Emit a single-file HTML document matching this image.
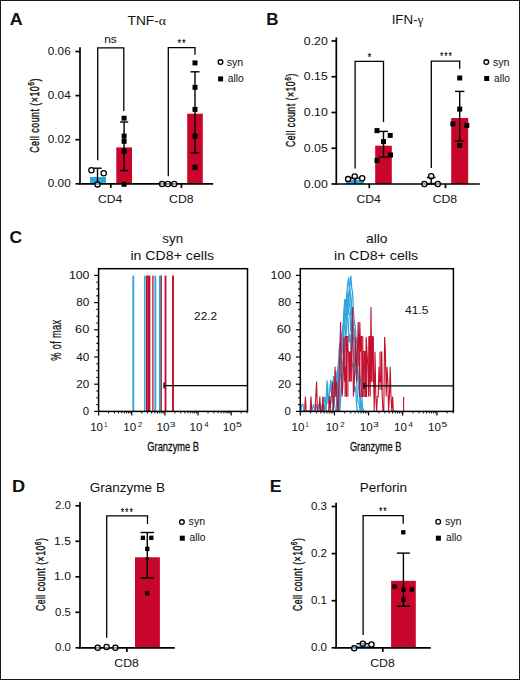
<!DOCTYPE html>
<html><head><meta charset="utf-8"><title>Figure</title>
<style>html,body{margin:0;padding:0;background:#fff;width:520px;height:680px;overflow:hidden}svg{display:block;font-family:"Liberation Sans",sans-serif}</style></head>
<body>
<svg width="520" height="680" viewBox="0 0 520 680" font-family="Liberation Sans, sans-serif" fill="#111">
<rect x="0" y="0" width="520" height="680" fill="#fff"/>
<rect x="90.0" y="177.0" width="16.00" height="6.80" fill="#2aa8e0"/>
<rect x="116.3" y="147.4" width="15.70" height="36.40" fill="#c8062b"/>
<rect x="187.2" y="113.7" width="15.60" height="70.10" fill="#c8062b"/>
<line x1="80.0" y1="47.2" x2="80.0" y2="184.45000000000002" stroke="#000" stroke-width="1.7"/>
<line x1="75.5" y1="183.8" x2="80.0" y2="183.8" stroke="#000" stroke-width="1.7"/>
<line x1="75.5" y1="139.70000000000002" x2="80.0" y2="139.70000000000002" stroke="#000" stroke-width="1.7"/>
<line x1="75.5" y1="95.60000000000001" x2="80.0" y2="95.60000000000001" stroke="#000" stroke-width="1.7"/>
<line x1="75.5" y1="51.5" x2="80.0" y2="51.5" stroke="#000" stroke-width="1.7"/>
<line x1="79.35" y1="183.8" x2="213.2" y2="183.8" stroke="#000" stroke-width="1.7"/>
<line x1="110.8" y1="183.8" x2="110.8" y2="188.0" stroke="#000" stroke-width="1.7"/>
<line x1="181.4" y1="183.8" x2="181.4" y2="188.0" stroke="#000" stroke-width="1.7"/>
<line x1="97.5" y1="168.2" x2="97.5" y2="183.8" stroke="#000" stroke-width="1.4"/>
<line x1="93.3" y1="168.2" x2="101.7" y2="168.2" stroke="#000" stroke-width="1.4"/>
<line x1="124.1" y1="122.0" x2="124.1" y2="170.6" stroke="#000" stroke-width="1.4"/>
<line x1="120.0" y1="122.0" x2="128.2" y2="122.0" stroke="#000" stroke-width="1.4"/>
<line x1="120.0" y1="170.6" x2="128.2" y2="170.6" stroke="#000" stroke-width="1.4"/>
<line x1="195.0" y1="71.8" x2="195.0" y2="152.9" stroke="#000" stroke-width="1.4"/>
<line x1="190.5" y1="71.8" x2="199.5" y2="71.8" stroke="#000" stroke-width="1.4"/>
<line x1="190.5" y1="152.9" x2="199.5" y2="152.9" stroke="#000" stroke-width="1.4"/>
<polyline points="97.70,160.30 97.70,47.80 123.80,47.80 123.80,111.00" fill="none" stroke="#000" stroke-width="1.3" stroke-linejoin="miter"/>
<polyline points="168.30,176.20 168.30,47.60 195.00,47.60 195.00,54.70" fill="none" stroke="#000" stroke-width="1.3" stroke-linejoin="miter"/>
<circle cx="91.4" cy="170.3" r="2.6" fill="#fff" fill-opacity="0.55" stroke="#000" stroke-width="1.3"/>
<circle cx="103.7" cy="173.2" r="2.6" fill="#fff" fill-opacity="0.55" stroke="#000" stroke-width="1.3"/>
<circle cx="97.5" cy="184.4" r="2.6" fill="#fff" fill-opacity="0.55" stroke="#000" stroke-width="1.3"/>
<rect x="121.60" y="115.70" width="5.0" height="5.0" fill="#000"/>
<rect x="121.60" y="133.60" width="5.0" height="5.0" fill="#000"/>
<rect x="121.60" y="138.80" width="5.0" height="5.0" fill="#000"/>
<rect x="121.60" y="148.70" width="5.0" height="5.0" fill="#000"/>
<rect x="121.60" y="181.80" width="5.0" height="5.0" fill="#000"/>
<circle cx="162.1" cy="184.0" r="2.6" fill="#fff" fill-opacity="0.55" stroke="#000" stroke-width="1.3"/>
<circle cx="167.9" cy="184.0" r="2.6" fill="#fff" fill-opacity="0.55" stroke="#000" stroke-width="1.3"/>
<circle cx="174.2" cy="184.0" r="2.6" fill="#fff" fill-opacity="0.55" stroke="#000" stroke-width="1.3"/>
<rect x="192.50" y="60.40" width="5.0" height="5.0" fill="#000"/>
<rect x="192.50" y="84.80" width="5.0" height="5.0" fill="#000"/>
<rect x="192.50" y="106.90" width="5.0" height="5.0" fill="#000"/>
<rect x="192.50" y="133.60" width="5.0" height="5.0" fill="#000"/>
<rect x="192.50" y="164.80" width="5.0" height="5.0" fill="#000"/>
<circle cx="220.5" cy="62.1" r="2.35" fill="#fff" fill-opacity="0.55" stroke="#000" stroke-width="1.3"/>
<rect x="218.10" y="76.40" width="5.0" height="5.0" fill="#000"/>
<rect x="346.0" y="180.0" width="18.00" height="4.00" fill="#2aa8e0"/>
<rect x="375.2" y="145.7" width="16.60" height="38.30" fill="#c8062b"/>
<rect x="422.5" y="182.6" width="17.50" height="1.40" fill="#2aa8e0"/>
<rect x="451.2" y="118.0" width="17.00" height="66.00" fill="#c8062b"/>
<line x1="336.3" y1="37.5" x2="336.3" y2="184.65" stroke="#000" stroke-width="1.7"/>
<line x1="331.5" y1="184.0" x2="336.3" y2="184.0" stroke="#000" stroke-width="1.7"/>
<line x1="331.5" y1="148.25" x2="336.3" y2="148.25" stroke="#000" stroke-width="1.7"/>
<line x1="331.5" y1="112.5" x2="336.3" y2="112.5" stroke="#000" stroke-width="1.7"/>
<line x1="331.5" y1="76.75" x2="336.3" y2="76.75" stroke="#000" stroke-width="1.7"/>
<line x1="331.5" y1="41.0" x2="336.3" y2="41.0" stroke="#000" stroke-width="1.7"/>
<line x1="335.65000000000003" y1="184.0" x2="479.8" y2="184.0" stroke="#000" stroke-width="1.7"/>
<line x1="369.3" y1="184.0" x2="369.3" y2="188.2" stroke="#000" stroke-width="1.7"/>
<line x1="445.5" y1="184.0" x2="445.5" y2="188.2" stroke="#000" stroke-width="1.7"/>
<line x1="355.0" y1="178.0" x2="355.0" y2="184.0" stroke="#000" stroke-width="1.4"/>
<line x1="350.8" y1="178.0" x2="359.2" y2="178.0" stroke="#000" stroke-width="1.4"/>
<line x1="383.5" y1="131.4" x2="383.5" y2="157.1" stroke="#000" stroke-width="1.4"/>
<line x1="379.0" y1="131.4" x2="388.0" y2="131.4" stroke="#000" stroke-width="1.4"/>
<line x1="379.0" y1="157.1" x2="388.0" y2="157.1" stroke="#000" stroke-width="1.4"/>
<line x1="431.2" y1="177.5" x2="431.2" y2="184.0" stroke="#000" stroke-width="1.4"/>
<line x1="426.9" y1="177.5" x2="435.5" y2="177.5" stroke="#000" stroke-width="1.4"/>
<line x1="426.9" y1="184.0" x2="435.5" y2="184.0" stroke="#000" stroke-width="1.4"/>
<line x1="459.7" y1="91.4" x2="459.7" y2="140.9" stroke="#000" stroke-width="1.4"/>
<line x1="455.0" y1="91.4" x2="464.4" y2="91.4" stroke="#000" stroke-width="1.4"/>
<line x1="455.0" y1="140.9" x2="464.4" y2="140.9" stroke="#000" stroke-width="1.4"/>
<polyline points="355.10,168.50 355.10,61.30 383.50,61.30 383.50,122.00" fill="none" stroke="#000" stroke-width="1.3" stroke-linejoin="miter"/>
<polyline points="431.30,168.00 431.30,61.20 459.70,61.20 459.70,68.80" fill="none" stroke="#000" stroke-width="1.3" stroke-linejoin="miter"/>
<circle cx="348.1" cy="179.1" r="2.6" fill="#fff" fill-opacity="0.55" stroke="#000" stroke-width="1.3"/>
<circle cx="354.7" cy="176.5" r="2.6" fill="#fff" fill-opacity="0.55" stroke="#000" stroke-width="1.3"/>
<circle cx="362.2" cy="178.3" r="2.6" fill="#fff" fill-opacity="0.55" stroke="#000" stroke-width="1.3"/>
<rect x="374.50" y="128.10" width="5.0" height="5.0" fill="#000"/>
<rect x="387.70" y="132.90" width="5.0" height="5.0" fill="#000"/>
<rect x="381.00" y="139.10" width="5.0" height="5.0" fill="#000"/>
<rect x="388.00" y="152.50" width="5.0" height="5.0" fill="#000"/>
<rect x="374.50" y="157.90" width="5.0" height="5.0" fill="#000"/>
<circle cx="424.4" cy="184.0" r="2.6" fill="#fff" fill-opacity="0.55" stroke="#000" stroke-width="1.3"/>
<circle cx="431.2" cy="176.3" r="2.6" fill="#fff" fill-opacity="0.55" stroke="#000" stroke-width="1.3"/>
<circle cx="437.8" cy="184.0" r="2.6" fill="#fff" fill-opacity="0.55" stroke="#000" stroke-width="1.3"/>
<rect x="457.20" y="75.50" width="5.0" height="5.0" fill="#000"/>
<rect x="457.20" y="106.60" width="5.0" height="5.0" fill="#000"/>
<rect x="450.40" y="121.40" width="5.0" height="5.0" fill="#000"/>
<rect x="464.30" y="122.90" width="5.0" height="5.0" fill="#000"/>
<rect x="457.20" y="142.80" width="5.0" height="5.0" fill="#000"/>
<circle cx="486.3" cy="62.1" r="2.35" fill="#fff" fill-opacity="0.55" stroke="#000" stroke-width="1.3"/>
<rect x="484.20" y="76.00" width="5.0" height="5.0" fill="#000"/>
<rect x="135.0" y="557.3" width="24.90" height="90.50" fill="#c8062b"/>
<line x1="80.0" y1="501.9" x2="80.0" y2="648.4499999999999" stroke="#000" stroke-width="1.7"/>
<line x1="75.5" y1="647.8" x2="80.0" y2="647.8" stroke="#000" stroke-width="1.7"/>
<line x1="75.5" y1="612.3" x2="80.0" y2="612.3" stroke="#000" stroke-width="1.7"/>
<line x1="75.5" y1="576.8" x2="80.0" y2="576.8" stroke="#000" stroke-width="1.7"/>
<line x1="75.5" y1="541.3" x2="80.0" y2="541.3" stroke="#000" stroke-width="1.7"/>
<line x1="75.5" y1="505.79999999999995" x2="80.0" y2="505.79999999999995" stroke="#000" stroke-width="1.7"/>
<line x1="79.35" y1="647.8" x2="174.8" y2="647.8" stroke="#000" stroke-width="1.7"/>
<line x1="126.9" y1="647.8" x2="126.9" y2="652.0" stroke="#000" stroke-width="1.7"/>
<line x1="147.3" y1="532.5" x2="147.3" y2="578.0" stroke="#000" stroke-width="1.4"/>
<line x1="140.55" y1="532.5" x2="154.05" y2="532.5" stroke="#000" stroke-width="1.4"/>
<line x1="140.55" y1="578.0" x2="154.05" y2="578.0" stroke="#000" stroke-width="1.4"/>
<polyline points="106.70,637.70 106.70,515.80 147.50,515.80 147.50,524.10" fill="none" stroke="#000" stroke-width="1.3" stroke-linejoin="miter"/>
<circle cx="97.7" cy="647.7" r="2.6" fill="#fff" fill-opacity="0.55" stroke="#000" stroke-width="1.3"/>
<circle cx="106.6" cy="646.9" r="2.6" fill="#fff" fill-opacity="0.55" stroke="#000" stroke-width="1.3"/>
<circle cx="115.4" cy="647.7" r="2.6" fill="#fff" fill-opacity="0.55" stroke="#000" stroke-width="1.3"/>
<rect x="140.75" y="535.65" width="4.3" height="4.3" fill="#000"/>
<rect x="149.15" y="535.65" width="4.3" height="4.3" fill="#000"/>
<rect x="145.15" y="546.75" width="4.3" height="4.3" fill="#000"/>
<rect x="145.15" y="591.15" width="4.3" height="4.3" fill="#000"/>
<polygon points="145.2,557.3 149.4,557.3 147.3,562.8" fill="#000"/>
<circle cx="181.9" cy="522.1" r="2.35" fill="#fff" fill-opacity="0.55" stroke="#000" stroke-width="1.3"/>
<rect x="179.80" y="535.70" width="5.0" height="5.0" fill="#000"/>
<rect x="352.0" y="645.6" width="21.50" height="2.20" fill="#2aa8e0"/>
<rect x="391.1" y="580.8" width="24.70" height="67.00" fill="#c8062b"/>
<line x1="336.1" y1="502.7" x2="336.1" y2="648.4499999999999" stroke="#000" stroke-width="1.7"/>
<line x1="331.6" y1="647.8" x2="336.1" y2="647.8" stroke="#000" stroke-width="1.7"/>
<line x1="331.6" y1="600.6999999999999" x2="336.1" y2="600.6999999999999" stroke="#000" stroke-width="1.7"/>
<line x1="331.6" y1="553.5999999999999" x2="336.1" y2="553.5999999999999" stroke="#000" stroke-width="1.7"/>
<line x1="331.6" y1="506.49999999999994" x2="336.1" y2="506.49999999999994" stroke="#000" stroke-width="1.7"/>
<line x1="335.45000000000005" y1="647.8" x2="430.8" y2="647.8" stroke="#000" stroke-width="1.7"/>
<line x1="382.8" y1="647.8" x2="382.8" y2="652.0" stroke="#000" stroke-width="1.7"/>
<line x1="362.9" y1="643.7" x2="362.9" y2="647.8" stroke="#000" stroke-width="1.4"/>
<line x1="356.5" y1="643.7" x2="369.0" y2="643.7" stroke="#000" stroke-width="1.4"/>
<line x1="403.4" y1="553.1" x2="403.4" y2="606.2" stroke="#000" stroke-width="1.4"/>
<line x1="396.9" y1="553.1" x2="409.9" y2="553.1" stroke="#000" stroke-width="1.4"/>
<line x1="396.9" y1="606.2" x2="409.9" y2="606.2" stroke="#000" stroke-width="1.4"/>
<polyline points="363.10,635.00 363.10,515.70 403.20,515.70 403.20,523.80" fill="none" stroke="#000" stroke-width="1.3" stroke-linejoin="miter"/>
<circle cx="354.2" cy="648.3" r="2.6" fill="#fff" fill-opacity="0.55" stroke="#000" stroke-width="1.3"/>
<circle cx="362.8" cy="643.8" r="2.6" fill="#fff" fill-opacity="0.55" stroke="#000" stroke-width="1.3"/>
<circle cx="371.5" cy="644.5" r="2.6" fill="#fff" fill-opacity="0.55" stroke="#000" stroke-width="1.3"/>
<rect x="401.15" y="530.15" width="4.3" height="4.3" fill="#000"/>
<rect x="392.45" y="584.35" width="4.3" height="4.3" fill="#000"/>
<rect x="401.25" y="587.55" width="4.3" height="4.3" fill="#000"/>
<rect x="409.65" y="587.35" width="4.3" height="4.3" fill="#000"/>
<rect x="401.25" y="597.55" width="4.3" height="4.3" fill="#000"/>
<circle cx="438.2" cy="521.7" r="2.35" fill="#fff" fill-opacity="0.55" stroke="#000" stroke-width="1.3"/>
<rect x="435.90" y="535.70" width="5.0" height="5.0" fill="#000"/>
<line x1="133.3" y1="275.6" x2="133.3" y2="411.4" stroke="#32a6dc" stroke-width="1.9"/>
<line x1="144.8" y1="275.6" x2="144.8" y2="411.4" stroke="#32a6dc" stroke-width="1.5"/>
<line x1="155.3" y1="275.6" x2="155.3" y2="411.4" stroke="#32a6dc" stroke-width="1.9"/>
<line x1="159.8" y1="275.6" x2="159.8" y2="411.4" stroke="#32a6dc" stroke-width="1.6"/>
<line x1="146.8" y1="275.6" x2="146.8" y2="411.4" stroke="#c4102f" stroke-width="1.7"/>
<line x1="148.2" y1="275.6" x2="148.2" y2="411.4" stroke="#c4102f" stroke-width="1.7"/>
<line x1="149.5" y1="275.6" x2="149.5" y2="411.4" stroke="#c4102f" stroke-width="1.7"/>
<line x1="152.9" y1="275.6" x2="152.9" y2="411.4" stroke="#c4102f" stroke-width="1.3"/>
<line x1="161.2" y1="275.6" x2="161.2" y2="411.4" stroke="#7a1a3a" stroke-width="1.3"/>
<line x1="165.5" y1="275.6" x2="165.5" y2="411.4" stroke="#c4102f" stroke-width="1.9"/>
<line x1="173.0" y1="275.6" x2="173.0" y2="411.4" stroke="#c4102f" stroke-width="1.9"/>
<polyline points="337.20,411.40 338.00,410.24 338.90,402.52 339.80,380.47 340.70,372.74 341.60,358.60 342.50,345.87 343.40,335.22 344.30,325.48 345.20,314.24 346.10,304.26 347.00,290.62 347.90,282.38 348.80,277.64 349.70,296.05 350.60,293.11 351.50,311.09 352.40,316.52 353.30,327.47 354.20,330.59 355.10,340.37 356.00,357.78 356.90,369.10 357.80,368.91 358.70,383.18 359.60,394.73 360.50,403.96 361.40,401.60 362.60,411.40" fill="none" stroke="#32a6dc" stroke-width="1.3" stroke-linejoin="miter" stroke-miterlimit="2"/>
<polyline points="339.20,411.40 340.00,410.50 340.90,393.25 341.80,389.07 342.70,375.95 343.60,364.23 344.50,351.46 345.40,338.19 346.30,332.48 347.20,316.49 348.10,304.52 349.00,297.96 349.90,285.16 350.80,275.80 351.70,288.02 352.60,293.25 353.50,311.51 354.40,322.31 355.30,327.12 356.20,341.89 357.10,341.00 358.00,356.80 358.90,360.48 359.80,375.40 360.70,380.60 361.60,390.87 362.50,407.29 363.80,411.40" fill="none" stroke="#32a6dc" stroke-width="1.3" stroke-linejoin="miter" stroke-miterlimit="2"/>
<polyline points="334.70,411.40 335.50,411.40 336.40,405.22 337.30,389.04 338.20,383.04 339.10,379.65 340.00,370.19 340.90,348.35 341.80,340.15 342.70,328.15 343.60,324.87 344.50,308.78 345.40,306.10 346.30,299.67 347.20,292.22 348.10,307.04 349.00,314.14 349.90,313.53 350.80,330.55 351.70,334.22 352.60,345.17 353.50,351.53 354.40,366.54 355.30,370.96 356.20,374.88 357.10,389.55 358.00,401.78 358.90,402.66 360.30,411.40" fill="none" stroke="#32a6dc" stroke-width="1.3" stroke-linejoin="miter" stroke-miterlimit="2"/>
<polyline points="338.20,411.40 339.00,411.40 339.90,398.69 340.80,392.56 341.70,373.74 342.60,363.38 343.50,357.23 344.40,345.55 345.30,333.41 346.20,321.55 347.10,313.40 348.00,300.53 348.90,292.48 349.80,288.22 350.70,297.93 351.60,307.70 352.50,320.25 353.40,327.64 354.30,332.68 355.20,346.41 356.10,354.98 357.00,356.39 357.90,372.13 358.80,382.07 359.70,390.51 360.60,399.34 361.50,406.75 362.80,411.40" fill="none" stroke="#32a6dc" stroke-width="1.3" stroke-linejoin="miter" stroke-miterlimit="2"/>
<polyline points="332.20,411.40 333.00,403.77 333.90,408.42 334.80,394.25 335.70,391.36 336.60,387.92 337.50,371.99 338.40,363.30 339.30,347.55 340.20,343.07 341.10,339.21 342.00,334.42 342.90,328.64 343.80,313.01 344.70,300.00 345.60,300.00 346.50,316.66 347.40,312.48 348.30,325.13 349.20,342.11 350.10,334.15 351.00,352.87 351.90,367.52 352.80,362.91 353.70,377.00 354.60,391.84 355.50,386.23 356.40,401.61 357.30,411.40 358.30,411.40" fill="none" stroke="#32a6dc" stroke-width="1.3" stroke-linejoin="miter" stroke-miterlimit="2"/>
<polyline points="335.70,411.40 336.50,411.40 337.40,407.19 338.30,396.17 339.20,382.29 340.10,368.88 341.00,356.40 341.90,351.60 342.80,341.43 343.70,333.05 344.60,322.69 345.50,313.78 346.40,303.81 347.30,296.59 348.20,294.29 349.10,301.59 350.00,307.68 350.90,314.45 351.80,331.08 352.70,331.81 353.60,338.85 354.50,345.42 355.40,364.84 356.30,363.00 357.20,373.74 358.10,379.14 359.00,389.40 359.90,399.84 360.80,411.40 361.80,411.40" fill="none" stroke="#32a6dc" stroke-width="1.3" stroke-linejoin="miter" stroke-miterlimit="2"/>
<polyline points="322.00,411.40 323.50,404.00 325.00,397.00 326.00,411.40 327.50,383.00 328.50,404.00 330.00,390.00 331.00,380.00 332.20,404.00 333.50,376.00 334.50,397.00 335.80,370.00 337.00,383.00 338.00,366.00 339.20,411.40" fill="none" stroke="#32a6dc" stroke-width="1.2" stroke-linejoin="miter" stroke-miterlimit="2"/>
<polyline points="300.60,411.40 301.90,404.40 303.00,404.40 304.00,411.40 310.20,411.40 311.00,404.00 312.00,411.40 313.50,404.00 315.00,411.40 316.30,404.00 317.50,411.40 319.00,404.00 320.50,404.00 321.50,411.40 323.00,397.00 324.50,411.40 326.30,395.00 327.00,380.20 328.00,404.00 329.20,397.00 330.60,380.20 331.80,397.00 333.00,390.00 334.20,383.00 335.20,397.00 336.50,376.00 337.50,390.00 338.50,411.40" fill="none" stroke="#32a6dc" stroke-width="1.1" stroke-linejoin="miter" stroke-miterlimit="2"/>
<line x1="345.1" y1="336.5" x2="345.1" y2="396.7" stroke="#c4102f" stroke-width="1.1"/>
<line x1="346.5" y1="336.5" x2="346.5" y2="396.7" stroke="#c4102f" stroke-width="1.1"/>
<line x1="347.9" y1="336.5" x2="347.9" y2="396.7" stroke="#c4102f" stroke-width="1.1"/>
<line x1="345.1" y1="336.5" x2="347.9" y2="336.5" stroke="#c4102f" stroke-width="1.1"/>
<line x1="349.7" y1="352.0" x2="349.7" y2="381.5" stroke="#c4102f" stroke-width="1.1"/>
<line x1="351.2" y1="352.0" x2="351.2" y2="381.5" stroke="#c4102f" stroke-width="1.1"/>
<line x1="349.7" y1="352.0" x2="351.2" y2="352.0" stroke="#c4102f" stroke-width="1.1"/>
<line x1="359.6" y1="336.5" x2="359.6" y2="397.0" stroke="#c4102f" stroke-width="1.1"/>
<line x1="361.2" y1="336.5" x2="361.2" y2="397.0" stroke="#c4102f" stroke-width="1.1"/>
<line x1="362.8" y1="336.5" x2="362.8" y2="397.0" stroke="#c4102f" stroke-width="1.1"/>
<line x1="359.6" y1="336.5" x2="362.8" y2="336.5" stroke="#c4102f" stroke-width="1.1"/>
<line x1="362.8" y1="351.5" x2="362.8" y2="397.0" stroke="#c4102f" stroke-width="1.1"/>
<line x1="364.03" y1="351.5" x2="364.03" y2="397.0" stroke="#c4102f" stroke-width="1.1"/>
<line x1="365.27" y1="351.5" x2="365.27" y2="397.0" stroke="#c4102f" stroke-width="1.1"/>
<line x1="366.5" y1="351.5" x2="366.5" y2="397.0" stroke="#c4102f" stroke-width="1.1"/>
<line x1="362.8" y1="351.5" x2="366.5" y2="351.5" stroke="#c4102f" stroke-width="1.1"/>
<line x1="368.8" y1="336.5" x2="368.8" y2="382.0" stroke="#c4102f" stroke-width="1.1"/>
<line x1="370.3" y1="336.5" x2="370.3" y2="382.0" stroke="#c4102f" stroke-width="1.1"/>
<line x1="371.8" y1="336.5" x2="371.8" y2="382.0" stroke="#c4102f" stroke-width="1.1"/>
<line x1="373.3" y1="336.5" x2="373.3" y2="382.0" stroke="#c4102f" stroke-width="1.1"/>
<line x1="368.8" y1="336.5" x2="373.3" y2="336.5" stroke="#c4102f" stroke-width="1.1"/>
<line x1="380.0" y1="352.0" x2="380.0" y2="390.0" stroke="#c4102f" stroke-width="1.1"/>
<line x1="381.8" y1="352.0" x2="381.8" y2="390.0" stroke="#c4102f" stroke-width="1.1"/>
<line x1="380.0" y1="352.0" x2="381.8" y2="352.0" stroke="#c4102f" stroke-width="1.1"/>
<polyline points="300.60,411.40 301.40,411.40 302.20,411.40 303.00,411.40 303.80,411.40 304.60,411.40 305.40,396.50 306.20,411.40 307.00,411.40 307.80,411.40 308.60,411.40 309.40,411.40 310.20,411.40 311.00,396.50 311.80,411.40 312.60,411.40 313.40,411.40 314.20,411.40 315.00,411.40 315.80,396.50 316.60,381.60 317.40,411.40 318.20,411.40 319.00,411.40 319.80,396.50 320.60,411.40 321.40,411.40 322.20,411.40 323.00,396.50 323.80,411.40 324.60,411.40 325.40,411.40 326.20,411.40 327.00,411.40 327.80,411.40 328.60,411.40 329.40,396.50 330.20,411.40 331.00,396.50 331.80,396.50 332.60,381.60 333.40,411.40 334.20,396.50 335.00,366.70 335.80,396.50 336.60,381.60 337.40,411.40 338.20,411.40 339.00,381.60 339.80,351.80 340.60,322.00 341.40,381.60 342.20,396.50 343.00,381.60 343.80,336.90 344.60,381.60 345.40,366.70 346.20,396.50 347.00,336.90 347.80,351.80 348.60,351.80 349.40,381.60 350.20,351.80 351.00,381.60 351.80,336.90 352.60,307.10 353.40,396.50 354.20,381.60 355.00,366.70 355.80,336.90 356.60,381.60 357.40,351.80 358.20,322.00 359.00,366.70 359.80,322.00 360.60,351.80 361.40,336.90 362.20,351.80 363.00,381.60 363.80,366.70 364.60,351.80 365.40,396.50 366.20,336.90 367.00,351.80 367.80,366.70 368.60,396.50 369.40,336.90 370.20,396.50 371.00,307.10 371.80,381.60 372.60,336.90 373.40,366.70 374.20,411.40 375.00,351.80 375.80,396.50 376.60,411.40 377.40,396.50 378.20,396.50 379.00,366.70 379.80,381.60 380.60,381.60 381.40,351.80 382.20,396.50 383.00,411.40 383.80,411.40 384.60,336.90 385.40,351.80 386.20,396.50 387.00,366.70 387.80,381.60 388.60,411.40 389.40,396.50 390.20,366.70 391.00,396.50 391.80,411.40 392.60,396.50 393.40,411.40 394.20,411.40 395.00,411.40 395.80,411.40 396.60,411.40 397.50,411.40" fill="none" stroke="#c4102f" stroke-width="1.1" stroke-linejoin="miter" stroke-miterlimit="2"/>
<line x1="403.6" y1="397.0" x2="403.6" y2="411.4" stroke="#c4102f" stroke-width="1.1"/>
<rect x="98.6" y="268.7" width="148.90" height="142.70" fill="none" stroke="#000" stroke-width="1.5"/>
<line x1="94.19999999999999" y1="411.4" x2="98.6" y2="411.4" stroke="#000" stroke-width="1.2"/>
<line x1="96.39999999999999" y1="404.59999999999997" x2="98.6" y2="404.59999999999997" stroke="#000" stroke-width="1.2"/>
<line x1="96.39999999999999" y1="397.79999999999995" x2="98.6" y2="397.79999999999995" stroke="#000" stroke-width="1.2"/>
<line x1="96.39999999999999" y1="391.0" x2="98.6" y2="391.0" stroke="#000" stroke-width="1.2"/>
<line x1="94.19999999999999" y1="384.2" x2="98.6" y2="384.2" stroke="#000" stroke-width="1.2"/>
<line x1="96.39999999999999" y1="377.4" x2="98.6" y2="377.4" stroke="#000" stroke-width="1.2"/>
<line x1="96.39999999999999" y1="370.59999999999997" x2="98.6" y2="370.59999999999997" stroke="#000" stroke-width="1.2"/>
<line x1="96.39999999999999" y1="363.79999999999995" x2="98.6" y2="363.79999999999995" stroke="#000" stroke-width="1.2"/>
<line x1="94.19999999999999" y1="357.0" x2="98.6" y2="357.0" stroke="#000" stroke-width="1.2"/>
<line x1="96.39999999999999" y1="350.2" x2="98.6" y2="350.2" stroke="#000" stroke-width="1.2"/>
<line x1="96.39999999999999" y1="343.4" x2="98.6" y2="343.4" stroke="#000" stroke-width="1.2"/>
<line x1="96.39999999999999" y1="336.59999999999997" x2="98.6" y2="336.59999999999997" stroke="#000" stroke-width="1.2"/>
<line x1="94.19999999999999" y1="329.79999999999995" x2="98.6" y2="329.79999999999995" stroke="#000" stroke-width="1.2"/>
<line x1="96.39999999999999" y1="323.0" x2="98.6" y2="323.0" stroke="#000" stroke-width="1.2"/>
<line x1="96.39999999999999" y1="316.2" x2="98.6" y2="316.2" stroke="#000" stroke-width="1.2"/>
<line x1="96.39999999999999" y1="309.4" x2="98.6" y2="309.4" stroke="#000" stroke-width="1.2"/>
<line x1="94.19999999999999" y1="302.59999999999997" x2="98.6" y2="302.59999999999997" stroke="#000" stroke-width="1.2"/>
<line x1="96.39999999999999" y1="295.79999999999995" x2="98.6" y2="295.79999999999995" stroke="#000" stroke-width="1.2"/>
<line x1="96.39999999999999" y1="289.0" x2="98.6" y2="289.0" stroke="#000" stroke-width="1.2"/>
<line x1="96.39999999999999" y1="282.2" x2="98.6" y2="282.2" stroke="#000" stroke-width="1.2"/>
<line x1="94.19999999999999" y1="275.4" x2="98.6" y2="275.4" stroke="#000" stroke-width="1.2"/>
<line x1="98.6" y1="411.4" x2="98.6" y2="415.4" stroke="#000" stroke-width="1.2"/>
<line x1="108.57914435626097" y1="411.4" x2="108.57914435626097" y2="413.4" stroke="#000" stroke-width="1.0"/>
<line x1="114.41656959395681" y1="411.4" x2="114.41656959395681" y2="413.4" stroke="#000" stroke-width="1.0"/>
<line x1="118.55828871252194" y1="411.4" x2="118.55828871252194" y2="413.4" stroke="#000" stroke-width="1.0"/>
<line x1="121.77085564373903" y1="411.4" x2="121.77085564373903" y2="413.4" stroke="#000" stroke-width="1.0"/>
<line x1="124.39571395021778" y1="411.4" x2="124.39571395021778" y2="413.4" stroke="#000" stroke-width="1.0"/>
<line x1="126.61500002647261" y1="411.4" x2="126.61500002647261" y2="413.4" stroke="#000" stroke-width="1.0"/>
<line x1="128.53743306878292" y1="411.4" x2="128.53743306878292" y2="413.4" stroke="#000" stroke-width="1.0"/>
<line x1="130.23313918791362" y1="411.4" x2="130.23313918791362" y2="413.4" stroke="#000" stroke-width="1.0"/>
<line x1="131.75" y1="411.4" x2="131.75" y2="415.4" stroke="#000" stroke-width="1.2"/>
<line x1="141.72914435626097" y1="411.4" x2="141.72914435626097" y2="413.4" stroke="#000" stroke-width="1.0"/>
<line x1="147.5665695939568" y1="411.4" x2="147.5665695939568" y2="413.4" stroke="#000" stroke-width="1.0"/>
<line x1="151.70828871252195" y1="411.4" x2="151.70828871252195" y2="413.4" stroke="#000" stroke-width="1.0"/>
<line x1="154.92085564373903" y1="411.4" x2="154.92085564373903" y2="413.4" stroke="#000" stroke-width="1.0"/>
<line x1="157.5457139502178" y1="411.4" x2="157.5457139502178" y2="413.4" stroke="#000" stroke-width="1.0"/>
<line x1="159.76500002647262" y1="411.4" x2="159.76500002647262" y2="413.4" stroke="#000" stroke-width="1.0"/>
<line x1="161.68743306878292" y1="411.4" x2="161.68743306878292" y2="413.4" stroke="#000" stroke-width="1.0"/>
<line x1="163.38313918791363" y1="411.4" x2="163.38313918791363" y2="413.4" stroke="#000" stroke-width="1.0"/>
<line x1="164.89999999999998" y1="411.4" x2="164.89999999999998" y2="415.4" stroke="#000" stroke-width="1.2"/>
<line x1="174.87914435626095" y1="411.4" x2="174.87914435626095" y2="413.4" stroke="#000" stroke-width="1.0"/>
<line x1="180.7165695939568" y1="411.4" x2="180.7165695939568" y2="413.4" stroke="#000" stroke-width="1.0"/>
<line x1="184.85828871252193" y1="411.4" x2="184.85828871252193" y2="413.4" stroke="#000" stroke-width="1.0"/>
<line x1="188.070855643739" y1="411.4" x2="188.070855643739" y2="413.4" stroke="#000" stroke-width="1.0"/>
<line x1="190.69571395021777" y1="411.4" x2="190.69571395021777" y2="413.4" stroke="#000" stroke-width="1.0"/>
<line x1="192.9150000264726" y1="411.4" x2="192.9150000264726" y2="413.4" stroke="#000" stroke-width="1.0"/>
<line x1="194.8374330687829" y1="411.4" x2="194.8374330687829" y2="413.4" stroke="#000" stroke-width="1.0"/>
<line x1="196.5331391879136" y1="411.4" x2="196.5331391879136" y2="413.4" stroke="#000" stroke-width="1.0"/>
<line x1="198.04999999999998" y1="411.4" x2="198.04999999999998" y2="415.4" stroke="#000" stroke-width="1.2"/>
<line x1="208.02914435626096" y1="411.4" x2="208.02914435626096" y2="413.4" stroke="#000" stroke-width="1.0"/>
<line x1="213.8665695939568" y1="411.4" x2="213.8665695939568" y2="413.4" stroke="#000" stroke-width="1.0"/>
<line x1="218.00828871252193" y1="411.4" x2="218.00828871252193" y2="413.4" stroke="#000" stroke-width="1.0"/>
<line x1="221.22085564373901" y1="411.4" x2="221.22085564373901" y2="413.4" stroke="#000" stroke-width="1.0"/>
<line x1="223.84571395021777" y1="411.4" x2="223.84571395021777" y2="413.4" stroke="#000" stroke-width="1.0"/>
<line x1="226.0650000264726" y1="411.4" x2="226.0650000264726" y2="413.4" stroke="#000" stroke-width="1.0"/>
<line x1="227.9874330687829" y1="411.4" x2="227.9874330687829" y2="413.4" stroke="#000" stroke-width="1.0"/>
<line x1="229.6831391879136" y1="411.4" x2="229.6831391879136" y2="413.4" stroke="#000" stroke-width="1.0"/>
<line x1="231.2" y1="411.4" x2="231.2" y2="415.4" stroke="#000" stroke-width="1.2"/>
<line x1="241.17914435626096" y1="411.4" x2="241.17914435626096" y2="413.4" stroke="#000" stroke-width="1.0"/>
<line x1="247.0165695939568" y1="411.4" x2="247.0165695939568" y2="413.4" stroke="#000" stroke-width="1.0"/>
<rect x="300.3" y="268.7" width="153.10" height="142.70" fill="none" stroke="#000" stroke-width="1.5"/>
<line x1="295.90000000000003" y1="411.4" x2="300.3" y2="411.4" stroke="#000" stroke-width="1.2"/>
<line x1="298.1" y1="404.59999999999997" x2="300.3" y2="404.59999999999997" stroke="#000" stroke-width="1.2"/>
<line x1="298.1" y1="397.79999999999995" x2="300.3" y2="397.79999999999995" stroke="#000" stroke-width="1.2"/>
<line x1="298.1" y1="391.0" x2="300.3" y2="391.0" stroke="#000" stroke-width="1.2"/>
<line x1="295.90000000000003" y1="384.2" x2="300.3" y2="384.2" stroke="#000" stroke-width="1.2"/>
<line x1="298.1" y1="377.4" x2="300.3" y2="377.4" stroke="#000" stroke-width="1.2"/>
<line x1="298.1" y1="370.59999999999997" x2="300.3" y2="370.59999999999997" stroke="#000" stroke-width="1.2"/>
<line x1="298.1" y1="363.79999999999995" x2="300.3" y2="363.79999999999995" stroke="#000" stroke-width="1.2"/>
<line x1="295.90000000000003" y1="357.0" x2="300.3" y2="357.0" stroke="#000" stroke-width="1.2"/>
<line x1="298.1" y1="350.2" x2="300.3" y2="350.2" stroke="#000" stroke-width="1.2"/>
<line x1="298.1" y1="343.4" x2="300.3" y2="343.4" stroke="#000" stroke-width="1.2"/>
<line x1="298.1" y1="336.59999999999997" x2="300.3" y2="336.59999999999997" stroke="#000" stroke-width="1.2"/>
<line x1="295.90000000000003" y1="329.79999999999995" x2="300.3" y2="329.79999999999995" stroke="#000" stroke-width="1.2"/>
<line x1="298.1" y1="323.0" x2="300.3" y2="323.0" stroke="#000" stroke-width="1.2"/>
<line x1="298.1" y1="316.2" x2="300.3" y2="316.2" stroke="#000" stroke-width="1.2"/>
<line x1="298.1" y1="309.4" x2="300.3" y2="309.4" stroke="#000" stroke-width="1.2"/>
<line x1="295.90000000000003" y1="302.59999999999997" x2="300.3" y2="302.59999999999997" stroke="#000" stroke-width="1.2"/>
<line x1="298.1" y1="295.79999999999995" x2="300.3" y2="295.79999999999995" stroke="#000" stroke-width="1.2"/>
<line x1="298.1" y1="289.0" x2="300.3" y2="289.0" stroke="#000" stroke-width="1.2"/>
<line x1="298.1" y1="282.2" x2="300.3" y2="282.2" stroke="#000" stroke-width="1.2"/>
<line x1="295.90000000000003" y1="275.4" x2="300.3" y2="275.4" stroke="#000" stroke-width="1.2"/>
<line x1="300.3" y1="411.4" x2="300.3" y2="415.4" stroke="#000" stroke-width="1.2"/>
<line x1="310.580174351925" y1="411.4" x2="310.580174351925" y2="413.4" stroke="#000" stroke-width="1.0"/>
<line x1="316.5936908486765" y1="411.4" x2="316.5936908486765" y2="413.4" stroke="#000" stroke-width="1.0"/>
<line x1="320.8603487038499" y1="411.4" x2="320.8603487038499" y2="413.4" stroke="#000" stroke-width="1.0"/>
<line x1="324.16982564807506" y1="411.4" x2="324.16982564807506" y2="413.4" stroke="#000" stroke-width="1.0"/>
<line x1="326.8738652006014" y1="411.4" x2="326.8738652006014" y2="413.4" stroke="#000" stroke-width="1.0"/>
<line x1="329.16009806648685" y1="411.4" x2="329.16009806648685" y2="413.4" stroke="#000" stroke-width="1.0"/>
<line x1="331.1405230557749" y1="411.4" x2="331.1405230557749" y2="413.4" stroke="#000" stroke-width="1.0"/>
<line x1="332.88738169735296" y1="411.4" x2="332.88738169735296" y2="413.4" stroke="#000" stroke-width="1.0"/>
<line x1="334.45" y1="411.4" x2="334.45" y2="415.4" stroke="#000" stroke-width="1.2"/>
<line x1="344.730174351925" y1="411.4" x2="344.730174351925" y2="413.4" stroke="#000" stroke-width="1.0"/>
<line x1="350.74369084867647" y1="411.4" x2="350.74369084867647" y2="413.4" stroke="#000" stroke-width="1.0"/>
<line x1="355.0103487038499" y1="411.4" x2="355.0103487038499" y2="413.4" stroke="#000" stroke-width="1.0"/>
<line x1="358.31982564807504" y1="411.4" x2="358.31982564807504" y2="413.4" stroke="#000" stroke-width="1.0"/>
<line x1="361.0238652006014" y1="411.4" x2="361.0238652006014" y2="413.4" stroke="#000" stroke-width="1.0"/>
<line x1="363.31009806648683" y1="411.4" x2="363.31009806648683" y2="413.4" stroke="#000" stroke-width="1.0"/>
<line x1="365.2905230557749" y1="411.4" x2="365.2905230557749" y2="413.4" stroke="#000" stroke-width="1.0"/>
<line x1="367.03738169735294" y1="411.4" x2="367.03738169735294" y2="413.4" stroke="#000" stroke-width="1.0"/>
<line x1="368.6" y1="411.4" x2="368.6" y2="415.4" stroke="#000" stroke-width="1.2"/>
<line x1="378.880174351925" y1="411.4" x2="378.880174351925" y2="413.4" stroke="#000" stroke-width="1.0"/>
<line x1="384.8936908486765" y1="411.4" x2="384.8936908486765" y2="413.4" stroke="#000" stroke-width="1.0"/>
<line x1="389.16034870384993" y1="411.4" x2="389.16034870384993" y2="413.4" stroke="#000" stroke-width="1.0"/>
<line x1="392.4698256480751" y1="411.4" x2="392.4698256480751" y2="413.4" stroke="#000" stroke-width="1.0"/>
<line x1="395.1738652006014" y1="411.4" x2="395.1738652006014" y2="413.4" stroke="#000" stroke-width="1.0"/>
<line x1="397.4600980664869" y1="411.4" x2="397.4600980664869" y2="413.4" stroke="#000" stroke-width="1.0"/>
<line x1="399.4405230557749" y1="411.4" x2="399.4405230557749" y2="413.4" stroke="#000" stroke-width="1.0"/>
<line x1="401.187381697353" y1="411.4" x2="401.187381697353" y2="413.4" stroke="#000" stroke-width="1.0"/>
<line x1="402.75" y1="411.4" x2="402.75" y2="415.4" stroke="#000" stroke-width="1.2"/>
<line x1="413.030174351925" y1="411.4" x2="413.030174351925" y2="413.4" stroke="#000" stroke-width="1.0"/>
<line x1="419.0436908486765" y1="411.4" x2="419.0436908486765" y2="413.4" stroke="#000" stroke-width="1.0"/>
<line x1="423.3103487038499" y1="411.4" x2="423.3103487038499" y2="413.4" stroke="#000" stroke-width="1.0"/>
<line x1="426.61982564807505" y1="411.4" x2="426.61982564807505" y2="413.4" stroke="#000" stroke-width="1.0"/>
<line x1="429.3238652006014" y1="411.4" x2="429.3238652006014" y2="413.4" stroke="#000" stroke-width="1.0"/>
<line x1="431.6100980664869" y1="411.4" x2="431.6100980664869" y2="413.4" stroke="#000" stroke-width="1.0"/>
<line x1="433.5905230557749" y1="411.4" x2="433.5905230557749" y2="413.4" stroke="#000" stroke-width="1.0"/>
<line x1="435.33738169735295" y1="411.4" x2="435.33738169735295" y2="413.4" stroke="#000" stroke-width="1.0"/>
<line x1="436.9" y1="411.4" x2="436.9" y2="415.4" stroke="#000" stroke-width="1.2"/>
<line x1="447.18017435192496" y1="411.4" x2="447.18017435192496" y2="413.4" stroke="#000" stroke-width="1.0"/>
<line x1="453.19369084867645" y1="411.4" x2="453.19369084867645" y2="413.4" stroke="#000" stroke-width="1.0"/>
<line x1="163.5" y1="385.7" x2="247.5" y2="385.7" stroke="#000" stroke-width="1.3"/>
<line x1="164.0" y1="382.6" x2="164.0" y2="388.6" stroke="#000" stroke-width="1.3"/>
<line x1="363.6" y1="385.8" x2="453.4" y2="385.8" stroke="#000" stroke-width="1.3"/>
<line x1="364.1" y1="382.7" x2="364.1" y2="388.7" stroke="#000" stroke-width="1.3"/>
<text transform="translate(9.80,24.60) scale(1.1182,1)" font-size="16" font-weight="bold">A</text>
<text transform="translate(266.24,24.50) scale(1.0600,1)" font-size="16" font-weight="bold">B</text>
<text transform="translate(9.61,243.20) scale(1.0900,1)" font-size="16" font-weight="bold">C</text>
<text transform="translate(12.06,491.60) scale(1.1400,1)" font-size="16" font-weight="bold">D</text>
<text transform="translate(269.79,491.80) scale(1.1111,1)" font-size="16" font-weight="bold">E</text>
<text transform="translate(127.50,24.50) scale(1.0583,1)" font-size="13">TNF-<tspan font-family="Liberation Serif">α</tspan></text>
<text transform="translate(391.67,24.00) scale(1.0267,1)" font-size="13">IFN-<tspan font-family="Liberation Serif">γ</tspan></text>
<text transform="translate(89.66,491.80) scale(1.0437,1)" font-size="13">Granzyme B</text>
<text transform="translate(359.76,491.80) scale(1.0386,1)" font-size="13">Perforin</text>
<text transform="translate(162.37,243.00) scale(1.0316,1)" font-size="13">syn</text>
<text transform="translate(130.41,260.00) scale(1.0882,1)" font-size="13">in CD8+ cells</text>
<text transform="translate(365.93,243.00) scale(1.0684,1)" font-size="13">allo</text>
<text transform="translate(334.11,260.00) scale(1.0947,1)" font-size="13">in CD8+ cells</text>
<text transform="translate(226.69,65.60) scale(1.0133,1)" font-size="10.5">syn</text>
<text transform="translate(227.70,81.70) scale(0.9750,1)" font-size="10.5">allo</text>
<text transform="translate(492.99,65.60) scale(1.0133,1)" font-size="10.5">syn</text>
<text transform="translate(494.00,81.70) scale(0.9750,1)" font-size="10.5">allo</text>
<text transform="translate(188.59,524.80) scale(1.0133,1)" font-size="10.5">syn</text>
<text transform="translate(189.60,541.40) scale(0.9750,1)" font-size="10.5">allo</text>
<text transform="translate(444.99,524.60) scale(1.0133,1)" font-size="10.5">syn</text>
<text transform="translate(446.00,541.40) scale(0.9750,1)" font-size="10.5">allo</text>
<text transform="translate(47.80,187.30) scale(1.0714,1)" font-size="11">0.00</text>
<text transform="translate(47.80,143.20) scale(1.0714,1)" font-size="11">0.02</text>
<text transform="translate(47.80,99.10) scale(1.0714,1)" font-size="11">0.04</text>
<text transform="translate(47.80,55.00) scale(1.0714,1)" font-size="11">0.06</text>
<text transform="translate(303.80,187.50) scale(1.1190,1)" font-size="11">0.00</text>
<text transform="translate(303.80,151.75) scale(1.1190,1)" font-size="11">0.05</text>
<text transform="translate(303.80,116.00) scale(1.1190,1)" font-size="11">0.10</text>
<text transform="translate(303.80,80.25) scale(1.1190,1)" font-size="11">0.15</text>
<text transform="translate(303.80,44.50) scale(1.1190,1)" font-size="11">0.20</text>
<text transform="translate(55.10,651.40) scale(1.0333,1)" font-size="11">0.0</text>
<text transform="translate(55.10,615.90) scale(1.0333,1)" font-size="11">0.5</text>
<text transform="translate(53.99,580.40) scale(1.1071,1)" font-size="11">1.0</text>
<text transform="translate(53.99,544.90) scale(1.1071,1)" font-size="11">1.5</text>
<text transform="translate(55.10,509.40) scale(1.0333,1)" font-size="11">2.0</text>
<text transform="translate(310.90,651.40) scale(1.0467,1)" font-size="11">0.0</text>
<text transform="translate(310.90,604.30) scale(1.0467,1)" font-size="11">0.1</text>
<text transform="translate(310.90,557.20) scale(1.0467,1)" font-size="11">0.2</text>
<text transform="translate(310.90,510.10) scale(1.0467,1)" font-size="11">0.3</text>
<text transform="translate(98.00,202.80) scale(1.1000,1)" font-size="11">CD4</text>
<text transform="translate(169.09,202.50) scale(1.1143,1)" font-size="11">CD8</text>
<text transform="translate(356.39,202.90) scale(1.1095,1)" font-size="11">CD4</text>
<text transform="translate(432.69,202.80) scale(1.1143,1)" font-size="11">CD8</text>
<text transform="translate(114.28,666.90) scale(1.1190,1)" font-size="11">CD8</text>
<text transform="translate(370.18,666.60) scale(1.1190,1)" font-size="11">CD8</text>
<text transform="translate(82.80,414.90) scale(1.0333,1)" font-size="11">0</text>
<text transform="translate(76.20,387.70) scale(1.0667,1)" font-size="11">20</text>
<text transform="translate(76.20,360.50) scale(1.0667,1)" font-size="11">40</text>
<text transform="translate(75.04,333.30) scale(1.1636,1)" font-size="11">60</text>
<text transform="translate(76.20,306.10) scale(1.0667,1)" font-size="11">80</text>
<text transform="translate(68.88,278.90) scale(1.1176,1)" font-size="11">100</text>
<text transform="translate(284.50,414.90) scale(1.0333,1)" font-size="11">0</text>
<text transform="translate(277.90,387.70) scale(1.0667,1)" font-size="11">20</text>
<text transform="translate(277.90,360.50) scale(1.0667,1)" font-size="11">40</text>
<text transform="translate(276.74,333.30) scale(1.1636,1)" font-size="11">60</text>
<text transform="translate(277.90,306.10) scale(1.0667,1)" font-size="11">80</text>
<text transform="translate(270.58,278.90) scale(1.1176,1)" font-size="11">100</text>
<text transform="translate(90.14,431.40) scale(1.0083,1)" font-size="11.5">10</text>
<text transform="translate(104.25,426.80) scale(0.7000,1)" font-size="8">1</text>
<text transform="translate(123.29,431.40) scale(1.0083,1)" font-size="11.5">10</text>
<text transform="translate(137.90,426.80) scale(0.9750,1)" font-size="8">2</text>
<text transform="translate(156.44,431.40) scale(1.0083,1)" font-size="11.5">10</text>
<text transform="translate(169.75,426.80) scale(1.3000,1)" font-size="8">3</text>
<text transform="translate(189.59,431.40) scale(1.0083,1)" font-size="11.5">10</text>
<text transform="translate(204.20,426.80) scale(0.9750,1)" font-size="8">4</text>
<text transform="translate(222.74,431.40) scale(1.0083,1)" font-size="11.5">10</text>
<text transform="translate(236.05,426.80) scale(1.3000,1)" font-size="8">5</text>
<text transform="translate(291.49,431.40) scale(1.0083,1)" font-size="11.5">10</text>
<text transform="translate(305.60,426.80) scale(0.7000,1)" font-size="8">1</text>
<text transform="translate(325.64,431.40) scale(1.0083,1)" font-size="11.5">10</text>
<text transform="translate(340.25,426.80) scale(0.9750,1)" font-size="8">2</text>
<text transform="translate(359.79,431.40) scale(1.0083,1)" font-size="11.5">10</text>
<text transform="translate(373.10,426.80) scale(1.3000,1)" font-size="8">3</text>
<text transform="translate(393.94,431.40) scale(1.0083,1)" font-size="11.5">10</text>
<text transform="translate(408.55,426.80) scale(0.9750,1)" font-size="8">4</text>
<text transform="translate(428.09,431.40) scale(1.0083,1)" font-size="11.5">10</text>
<text transform="translate(441.40,426.80) scale(1.3000,1)" font-size="8">5</text>
<text transform="translate(147.30,450.80) scale(0.7167,1)" font-size="13" stroke="#111" stroke-width="0.3">Granzyme B</text>
<text transform="translate(349.90,450.80) scale(0.7139,1)" font-size="13" stroke="#111" stroke-width="0.3">Granzyme B</text>
<text transform="translate(61.00,360.80) rotate(-90) scale(0.6613,1)" font-size="14" stroke="#111" stroke-width="0.2" letter-spacing="0.5">% of max</text>
<text transform="translate(194.10,319.90) scale(1.0714,1)" font-size="11">22.2</text>
<text transform="translate(405.10,313.90) scale(1.0952,1)" font-size="11">41.5</text>
<text transform="translate(39.00,152.80) rotate(-90) scale(0.7067,1)" font-size="12.5" stroke="#111" stroke-width="0.4" letter-spacing="0.7">Cell count (×10<tspan font-size="9.5" dy="-4.6">6</tspan><tspan dy="4.6">)</tspan></text>
<text transform="translate(295.40,147.10) rotate(-90) scale(0.7000,1)" font-size="12.5" stroke="#111" stroke-width="0.4" letter-spacing="0.7">Cell count (×10<tspan font-size="9.5" dy="-4.6">6</tspan><tspan dy="4.6">)</tspan></text>
<text transform="translate(45.40,611.10) rotate(-90) scale(0.6943,1)" font-size="12.5" stroke="#111" stroke-width="0.4" letter-spacing="0.7">Cell count (×10<tspan font-size="9.5" dy="-4.6">6</tspan><tspan dy="4.6">)</tspan></text>
<text transform="translate(301.80,611.10) rotate(-90) scale(0.6943,1)" font-size="12.5" stroke="#111" stroke-width="0.4" letter-spacing="0.7">Cell count (×10<tspan font-size="9.5" dy="-4.6">6</tspan><tspan dy="4.6">)</tspan></text>
<text transform="translate(104.20,42.50) scale(1.2000,1)" font-size="10">ns</text>
<text transform="translate(177.70,46.80) scale(0.7364,1)" font-size="11" stroke="#111" stroke-width="0.25"><tspan letter-spacing="2">**</tspan></text>
<text transform="translate(367.70,60.60) scale(0.8000,1)" font-size="11" stroke="#111" stroke-width="0.25"><tspan letter-spacing="2">*</tspan></text>
<text transform="translate(440.20,60.40) scale(0.6765,1)" font-size="11" stroke="#111" stroke-width="0.25"><tspan letter-spacing="2">***</tspan></text>
<text transform="translate(121.00,516.30) scale(0.6941,1)" font-size="11" stroke="#111" stroke-width="0.25"><tspan letter-spacing="2">***</tspan></text>
<text transform="translate(379.20,515.20) scale(0.7000,1)" font-size="11" stroke="#111" stroke-width="0.25"><tspan letter-spacing="2">**</tspan></text>
<rect x="0.5" y="0.5" width="519" height="679" fill="none" stroke="#1a1a1a" stroke-width="1"/>
</svg>
</body></html>
